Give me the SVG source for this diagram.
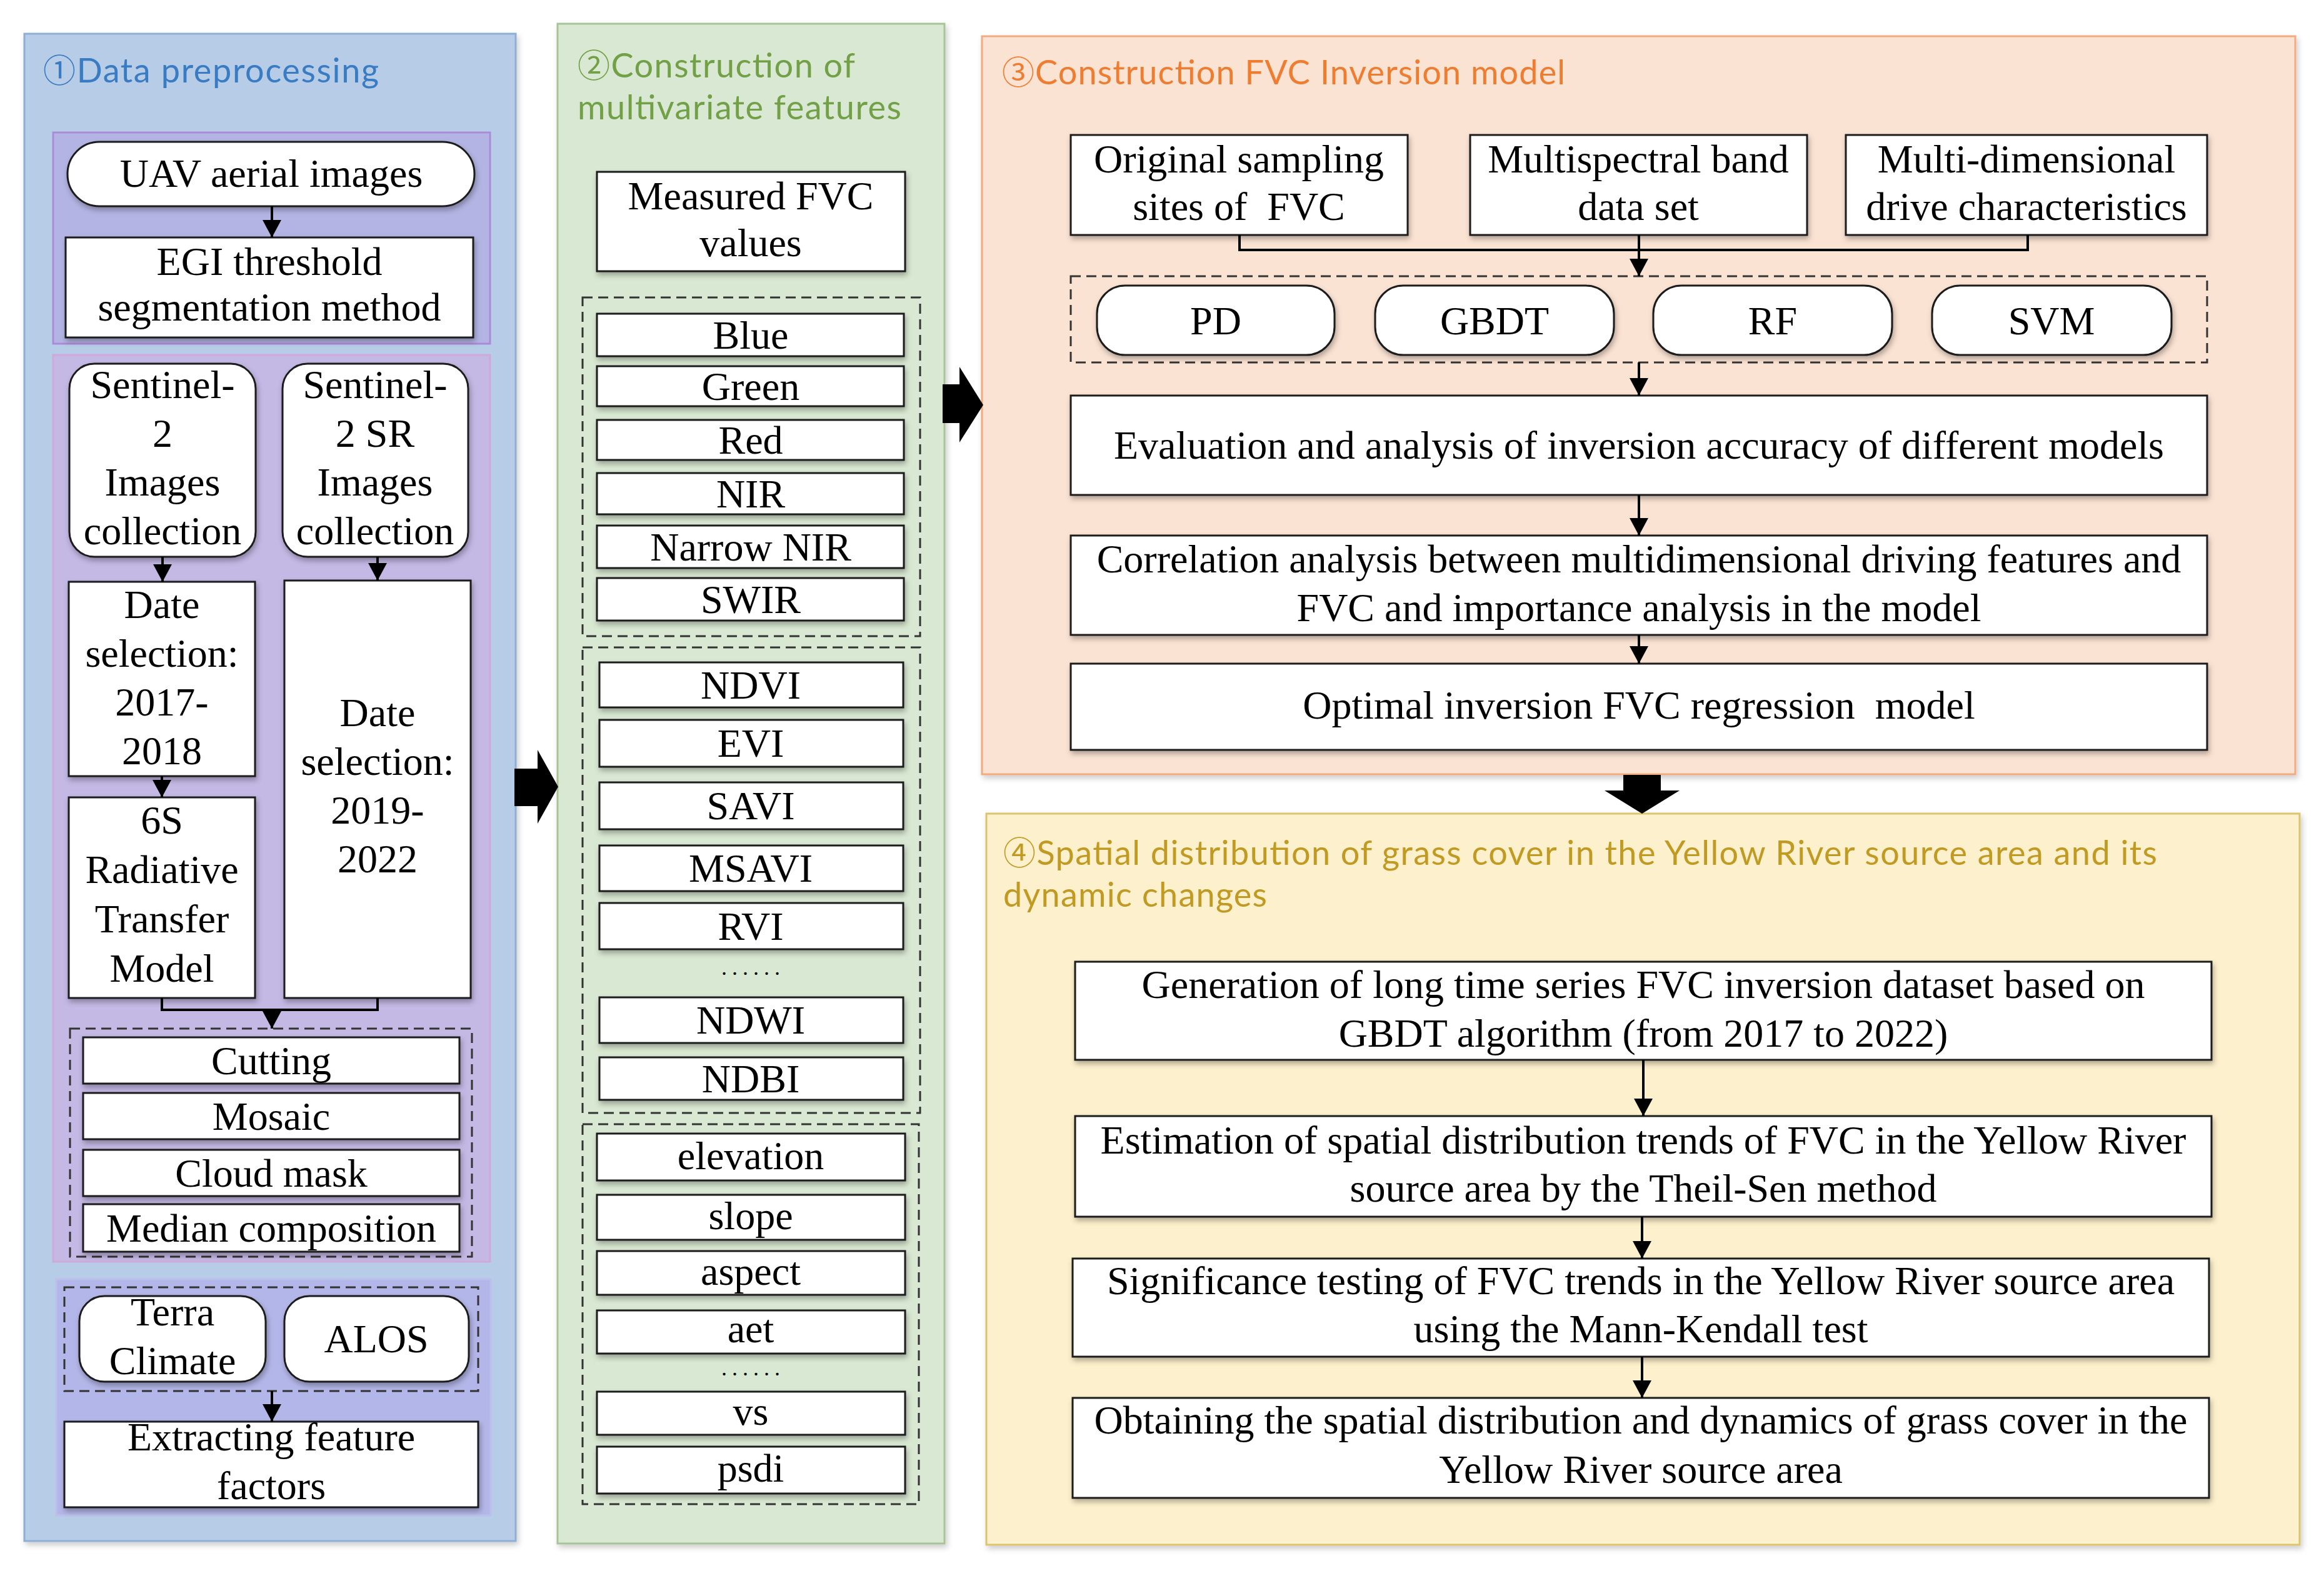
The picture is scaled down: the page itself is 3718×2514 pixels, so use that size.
<svg xmlns="http://www.w3.org/2000/svg" width="3718" height="2514" viewBox="0 0 3718 2514">
<defs>
<filter id="sh" x="-5%" y="-10%" width="110%" height="130%">
<feDropShadow dx="2" dy="5" stdDeviation="4" flood-color="#000" flood-opacity="0.3"/>
</filter>
<filter id="psh" x="-2%" y="-2%" width="104%" height="104%">
<feDropShadow dx="3" dy="5" stdDeviation="5" flood-color="#000" flood-opacity="0.2"/>
</filter>
<marker id="ah" viewBox="0 0 28 30" markerWidth="28" markerHeight="30" refX="28" refY="15" orient="auto" markerUnits="userSpaceOnUse">
<path d="M0,0 L28,15 L0,30 z" fill="#000"/>
</marker>
<style>
.t{font-family:"Liberation Serif","Times New Roman",serif;font-size:64px;text-anchor:middle;fill:#000}
.dots{font-family:"Liberation Serif","Times New Roman",serif;font-size:36px;letter-spacing:8px;text-anchor:middle;fill:#000}
.ti{font-family:Lato,"Noto Sans","DejaVu Sans",sans-serif;font-size:54px}
.cd{font-family:"Noto Sans CJK SC","DejaVu Sans",sans-serif;font-size:52px}
.box{fill:#fff;stroke:#1a1a1a;stroke-width:3;filter:url(#sh)}
.dash{fill:none;stroke:#333;stroke-width:3;stroke-dasharray:16 9}
.conn{fill:none;stroke:#000;stroke-width:4}
.arr{fill:none;stroke:#000;stroke-width:4;marker-end:url(#ah)}
.blk{fill:#000}
</style>
</defs>
<rect width="3718" height="2514" fill="#fff"/>

<!-- Panel 1 -->
<g id="panel1">
<rect x="39" y="54" width="786" height="2412" fill="#b7cce6" stroke="#8eaed4" stroke-width="3" filter="url(#psh)"/>
<text class="ti" x="69" y="132" fill="#3a7cc3" textLength="537" lengthAdjust="spacing"><tspan class="cd">①</tspan>Data preprocessing</text>
<rect x="85" y="212" width="699" height="338" fill="#b4b4e4" stroke="#a98bd8" stroke-width="3"/>
<rect x="85" y="568" width="699" height="1451" fill="#c4b8e4" stroke="#d0a8da" stroke-width="3"/>
<rect x="90" y="2047" width="695" height="378" fill="#b3b6e8" stroke="#bcbfe9" stroke-width="3"/>
<rect class="dash" x="112" y="1646" width="643" height="365"/>
<rect class="dash" x="103" y="2060" width="662" height="166"/>
</g>
<g id="uav"><rect class="box" x="108" y="227" width="651" height="103" rx="51"/><text class="t" x="434" y="299">UAV aerial images</text></g>
<g id="egi"><rect class="box" x="105" y="380" width="652" height="160"/><text class="t" x="431" y="440">EGI threshold</text><text class="t" x="431" y="513">segmentation method</text></g>
<g id="s2"><rect class="box" x="111" y="582" width="298" height="309" rx="40"/><text class="t" x="260" y="637">Sentinel-</text><text class="t" x="260" y="715">2</text><text class="t" x="260" y="793">Images</text><text class="t" x="260" y="871">collection</text></g>
<g id="s2sr"><rect class="box" x="452" y="582" width="297" height="309" rx="40"/><text class="t" x="600" y="637">Sentinel-</text><text class="t" x="600" y="715">2 SR</text><text class="t" x="600" y="793">Images</text><text class="t" x="600" y="871">collection</text></g>
<g id="date1"><rect class="box" x="110" y="931" width="298" height="311"/><text class="t" x="259" y="989">Date</text><text class="t" x="259" y="1067">selection:</text><text class="t" x="259" y="1145">2017-</text><text class="t" x="259" y="1223">2018</text></g>
<g id="rtm"><rect class="box" x="110" y="1276" width="298" height="321"/><text class="t" x="259" y="1334">6S</text><text class="t" x="259" y="1413">Radiative</text><text class="t" x="259" y="1492">Transfer</text><text class="t" x="259" y="1571">Model</text></g>
<g id="date2"><rect class="box" x="455" y="929" width="298" height="668"/><text class="t" x="604" y="1162">Date</text><text class="t" x="604" y="1240">selection:</text><text class="t" x="604" y="1318">2019-</text><text class="t" x="604" y="1396">2022</text></g>
<g id="cutting"><rect class="box" x="133" y="1660" width="602" height="74"/><text class="t" x="434" y="1719">Cutting</text></g>
<g id="mosaic"><rect class="box" x="133" y="1749" width="602" height="74"/><text class="t" x="434" y="1808">Mosaic</text></g>
<g id="cloud"><rect class="box" x="133" y="1840" width="602" height="74"/><text class="t" x="434" y="1899">Cloud mask</text></g>
<g id="median"><rect class="box" x="133" y="1927" width="602" height="76"/><text class="t" x="434" y="1987">Median composition</text></g>
<g id="terra"><rect class="box" x="127" y="2074" width="298" height="137" rx="40"/><text class="t" x="276" y="2121">Terra</text><text class="t" x="276" y="2199">Climate</text></g>
<g id="alos"><rect class="box" x="455" y="2074" width="295" height="137" rx="40"/><text class="t" x="602" y="2164">ALOS</text></g>
<g id="extract"><rect class="box" x="103" y="2275" width="662" height="137"/><text class="t" x="434" y="2321">Extracting feature</text><text class="t" x="434" y="2399">factors</text></g>

<!-- Panel 2 -->
<g id="panel2">
<rect x="892" y="38" width="619" height="2432" fill="#d9e8d2" stroke="#a7c496" stroke-width="3" filter="url(#psh)"/>
<text class="ti" x="924" y="124" fill="#72a046" textLength="444" lengthAdjust="spacing"><tspan class="cd">②</tspan>Construction of</text>
<text class="ti" x="924" y="191" fill="#72a046" textLength="518" lengthAdjust="spacing">multivariate features</text>
<rect class="dash" x="932" y="476" width="540" height="542"/>
<rect class="dash" x="932" y="1036" width="540" height="745"/>
<rect class="dash" x="932" y="1799" width="538" height="608"/>
<text class="dots" x="1205" y="1560">......</text>
<text class="dots" x="1205" y="2201">......</text>
</g>
<g id="measured"><rect class="box" x="955" y="275" width="493" height="159"/><text class="t" x="1201" y="335">Measured FVC</text><text class="t" x="1201" y="410">values</text></g>
<g id="blue"><rect class="box" x="955" y="502" width="491" height="68"/><text class="t" x="1201" y="558">Blue</text></g>
<g id="green"><rect class="box" x="955" y="586" width="491" height="64"/><text class="t" x="1201" y="640">Green</text></g>
<g id="red"><rect class="box" x="955" y="672" width="491" height="64"/><text class="t" x="1201" y="726">Red</text></g>
<g id="nir"><rect class="box" x="955" y="757" width="491" height="66"/><text class="t" x="1201" y="812">NIR</text></g>
<g id="nnir"><rect class="box" x="955" y="841" width="491" height="68"/><text class="t" x="1201" y="897">Narrow NIR</text></g>
<g id="swir"><rect class="box" x="955" y="925" width="491" height="68"/><text class="t" x="1201" y="981">SWIR</text></g>
<g id="ndvi"><rect class="box" x="959" y="1060" width="486" height="72"/><text class="t" x="1201" y="1118">NDVI</text></g>
<g id="evi"><rect class="box" x="959" y="1152" width="486" height="75"/><text class="t" x="1201" y="1211">EVI</text></g>
<g id="savi"><rect class="box" x="959" y="1252" width="486" height="75"/><text class="t" x="1201" y="1311">SAVI</text></g>
<g id="msavi"><rect class="box" x="959" y="1353" width="486" height="73"/><text class="t" x="1201" y="1411">MSAVI</text></g>
<g id="rvi"><rect class="box" x="959" y="1445" width="486" height="74"/><text class="t" x="1201" y="1504">RVI</text></g>
<g id="ndwi"><rect class="box" x="959" y="1596" width="486" height="73"/><text class="t" x="1201" y="1654">NDWI</text></g>
<g id="ndbi"><rect class="box" x="959" y="1692" width="486" height="68"/><text class="t" x="1201" y="1748">NDBI</text></g>
<g id="elev"><rect class="box" x="955" y="1814" width="493" height="75"/><text class="t" x="1201" y="1871">elevation</text></g>
<g id="slope"><rect class="box" x="955" y="1912" width="493" height="72"/><text class="t" x="1201" y="1967">slope</text></g>
<g id="aspect"><rect class="box" x="955" y="2002" width="493" height="70"/><text class="t" x="1201" y="2056">aspect</text></g>
<g id="aet"><rect class="box" x="955" y="2097" width="493" height="69"/><text class="t" x="1201" y="2148">aet</text></g>
<g id="vs"><rect class="box" x="955" y="2227" width="493" height="69"/><text class="t" x="1201" y="2280">vs</text></g>
<g id="psdi"><rect class="box" x="955" y="2315" width="493" height="75"/><text class="t" x="1201" y="2371">psdi</text></g>

<!-- Panel 3 -->
<g id="panel3">
<rect x="1571" y="58" width="2101" height="1181" fill="#fbe3d3" stroke="#f2aa7e" stroke-width="3" filter="url(#psh)"/>
<text class="ti" x="1603" y="135" fill="#ee7d31" textLength="901" lengthAdjust="spacing"><tspan class="cd">③</tspan>Construction FVC Inversion model</text>
<rect class="dash" x="1713" y="442" width="1818" height="138"/>
</g>
<g id="orig"><rect class="box" x="1713" y="216" width="539" height="160"/><text class="t" x="1982" y="276">Original sampling</text><text class="t" x="1982" y="352">sites of&#160; FVC</text></g>
<g id="multispec"><rect class="box" x="2352" y="216" width="539" height="160"/><text class="t" x="2621" y="276">Multispectral band</text><text class="t" x="2621" y="352">data set</text></g>
<g id="multidim"><rect class="box" x="2953" y="216" width="578" height="160"/><text class="t" x="3242" y="276">Multi-dimensional</text><text class="t" x="3242" y="352">drive characteristics</text></g>
<g id="pd"><rect class="box" x="1755" y="457" width="380" height="111" rx="45"/><text class="t" x="1945" y="535">PD</text></g>
<g id="gbdt"><rect class="box" x="2200" y="457" width="382" height="111" rx="45"/><text class="t" x="2391" y="535">GBDT</text></g>
<g id="rf"><rect class="box" x="2645" y="457" width="382" height="111" rx="45"/><text class="t" x="2836" y="535">RF</text></g>
<g id="svm"><rect class="box" x="3091" y="457" width="383" height="111" rx="45"/><text class="t" x="3282" y="535">SVM</text></g>
<g id="eval"><rect class="box" x="1713" y="633" width="1818" height="159"/><text class="t" x="2622" y="734">Evaluation and analysis of inversion accuracy of different models</text></g>
<g id="corr"><rect class="box" x="1713" y="857" width="1818" height="159"/><text class="t" x="2622" y="916">Correlation analysis between multidimensional driving features and</text><text class="t" x="2622" y="994">FVC and importance analysis in the model</text></g>
<g id="optimal"><rect class="box" x="1713" y="1062" width="1818" height="138"/><text class="t" x="2622" y="1150">Optimal inversion FVC regression&#160; model</text></g>

<!-- Panel 4 -->
<g id="panel4">
<rect x="1578" y="1302" width="2101" height="1170" fill="#fdf0cc" stroke="#dcc46e" stroke-width="3" filter="url(#psh)"/>
<text class="ti" x="1605" y="1384" fill="#c09a22" textLength="1846" lengthAdjust="spacing"><tspan class="cd">④</tspan>Spatial distribution of grass cover in the Yellow River source area and its</text>
<text class="ti" x="1605" y="1451" fill="#c09a22" textLength="422" lengthAdjust="spacing">dynamic changes</text>
</g>
<g id="gen"><rect class="box" x="1720" y="1539" width="1818" height="157"/><text class="t" x="2629" y="1597">Generation of long time series FVC inversion dataset based on</text><text class="t" x="2629" y="1675">GBDT algorithm (from 2017 to 2022)</text></g>
<g id="est"><rect class="box" x="1720" y="1786" width="1818" height="161"/><text class="t" x="2629" y="1846">Estimation of spatial distribution trends of FVC in the Yellow River</text><text class="t" x="2629" y="1923">source area by the Theil-Sen method</text></g>
<g id="sig"><rect class="box" x="1716" y="2014" width="1818" height="157"/><text class="t" x="2625" y="2071">Significance testing of FVC trends in the Yellow River source area</text><text class="t" x="2625" y="2148">using the Mann-Kendall test</text></g>
<g id="obt"><rect class="box" x="1716" y="2237" width="1818" height="160"/><text class="t" x="2625" y="2294">Obtaining the spatial distribution and dynamics of grass cover in the</text><text class="t" x="2625" y="2373">Yellow River source area</text></g>

<!-- Connectors -->
<g id="connectors">
<line class="arr" x1="435" y1="330" x2="435" y2="380"/>
<line class="arr" x1="260" y1="891" x2="260" y2="931"/>
<line class="arr" x1="604" y1="891" x2="604" y2="929"/>
<line class="arr" x1="259" y1="1242" x2="259" y2="1276"/>
<path class="conn" d="M259,1597 V1616 H604 V1597"/>
<line class="arr" x1="435" y1="1616" x2="435" y2="1646"/>
<line class="arr" x1="435" y1="2226" x2="435" y2="2275"/>
<path class="conn" d="M1983,376 V400 H3244 V376"/>
<line class="arr" x1="2622" y1="376" x2="2622" y2="442"/>
<line class="arr" x1="2622" y1="580" x2="2622" y2="633"/>
<line class="arr" x1="2622" y1="792" x2="2622" y2="857"/>
<line class="arr" x1="2622" y1="1016" x2="2622" y2="1062"/>
<line class="arr" x1="2629" y1="1696" x2="2629" y2="1786"/>
<line class="arr" x1="2627" y1="1947" x2="2627" y2="2014"/>
<line class="arr" x1="2627" y1="2171" x2="2627" y2="2237"/>
<polygon class="blk" points="823,1230 860,1230 860,1200 893,1259 860,1318 860,1290 823,1290"/>
<polygon class="blk" points="1508,615 1535,615 1535,587 1573,648 1535,708 1535,677 1508,677"/>
<polygon class="blk" points="2597,1240 2657,1240 2657,1265 2687,1265 2627,1302 2567,1265 2597,1265"/>
</g>
</svg>
